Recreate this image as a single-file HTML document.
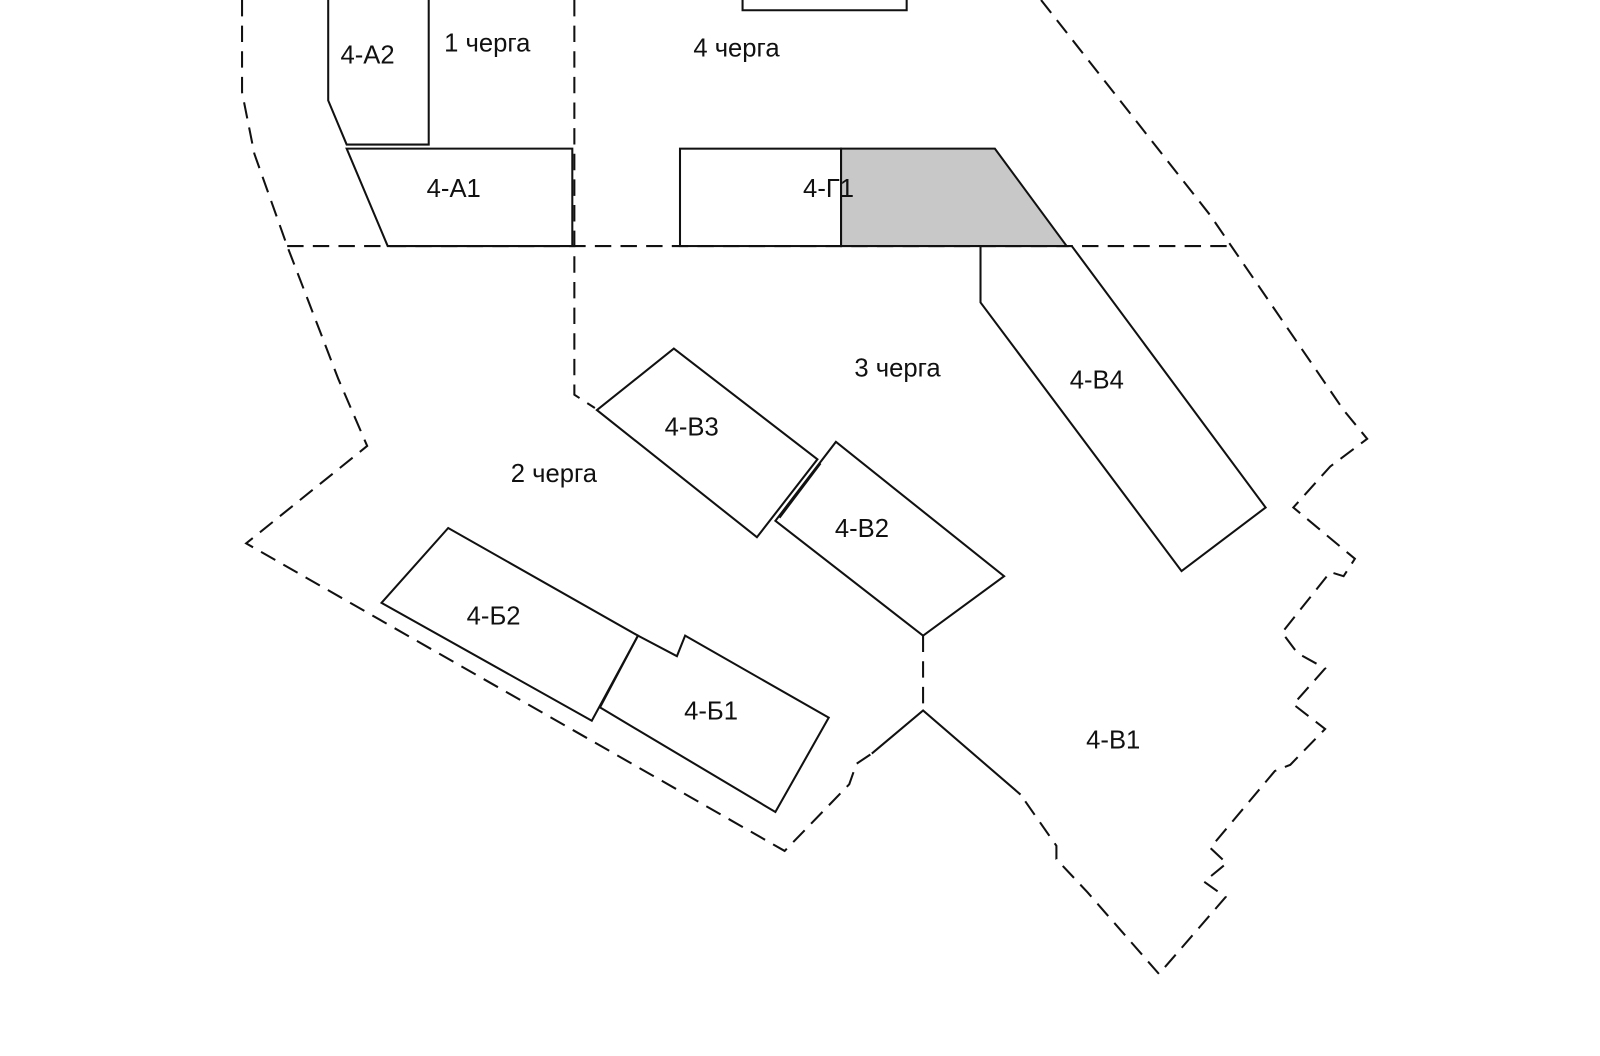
<!DOCTYPE html>
<html><head><meta charset="utf-8"><style>
html,body{margin:0;padding:0;background:#fff;width:1600px;height:1056px;overflow:hidden}
svg{display:block}
text{font-family:"Liberation Sans",sans-serif;font-size:25px;fill:#111}
</style></head><body>
<svg width="1600" height="1056" viewBox="0 0 1560 1030" preserveAspectRatio="none" xmlns="http://www.w3.org/2000/svg">
<g fill="none" stroke="#111" stroke-width="2">
<!-- dashed boundaries -->
<g stroke-dasharray="16,9">
<path d="M236,0 L236,90 L248,150 L280,240 L330,370 L358,435 L240,530 L765,830 L828,765 L835,745 L850,735"/>
<line x1="280" y1="240" x2="1200" y2="240"/>
<path d="M560,0 L560,385 L580,398"/>
<path d="M1015,0 L1180,210 L1310,400 L1333,428 L1297,455 L1261,495 L1321,545 L1310,562 L1297,558 L1250,617 L1265,637 L1292,652 L1261,687 L1292,711 L1258,746 L1243,752 L1180,827 L1196,842 L1174,860 L1195,875 L1130,950 L1060,870 L1030,838 L1030,825 L995,775"/>
<line x1="900" y1="620" x2="900" y2="693"/>
</g>
<path d="M850,735 L900,693 L995,775"/>
<!-- top box -->
<path d="M724,0 L724,10 L884,10 L884,0"/>
<!-- 4-A2 -->
<path d="M320,0 L320,98 L338,141 L418,141 L418,0"/>
<!-- 4-A1 -->
<path d="M338,145 L558,145 L558,240 L378,240 Z"/>
<!-- 4-Г1 -->
<path d="M820,145 L970,145 L1040,240 L820,240 Z" fill="#c8c8c8"/>
<rect x="663" y="145" width="157" height="95"/>
<!-- 4-В4 -->
<path d="M956,240 L956,295 L1152,557 L1234,495 L1045,240"/>
<!-- 4-В3 -->
<path d="M582,400 L657,340 L797,448 L738,524 Z"/>
<!-- 4-В2 -->
<path d="M756,508 L815,431 L979,562 L900,620 Z"/>
<line x1="760" y1="505" x2="800" y2="452"/>
<!-- 4-Б2 -->
<path d="M372,588 L437,515 L622,620 L577,703 Z"/>
<!-- 4-Б1 -->
<path d="M585,690 L622,620 L660,640 L668,620 L808,700 L756,792 Z"/>
</g>
<text x="332" y="62">4-А2</text>
<text x="433" y="50">1 черга</text>
<text x="676" y="55">4 черга</text>
<text x="416" y="192">4-А1</text>
<text x="783" y="192">4-Г1</text>
<text x="833" y="367">3 черга</text>
<text x="1043" y="379">4-В4</text>
<text x="648" y="425">4-В3</text>
<text x="498" y="470">2 черга</text>
<text x="814" y="524">4-В2</text>
<text x="455" y="609">4-Б2</text>
<text x="667" y="702">4-Б1</text>
<text x="1059" y="730">4-В1</text>
</svg>
</body></html>
